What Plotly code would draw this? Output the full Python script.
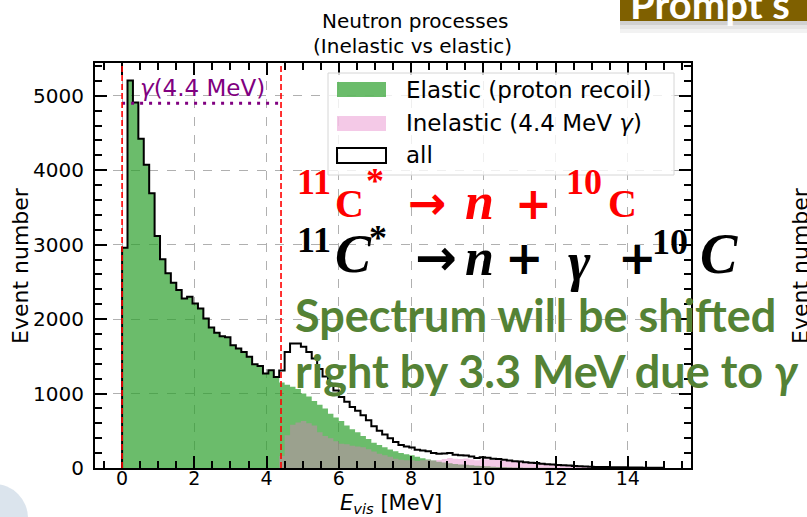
import numpy as np
import plotly.graph_objects as go

# ---- histogram data: 100 bins of 0.15 MeV from 0 to 15 MeV ----
bin_edges = np.linspace(0.0, 15.0, 101)

elastic_counts = [
    2960, 5207, 4911, 4423, 4073, 3692, 3117, 2803, 2615, 2489,
    2390, 2278, 2300, 2210, 2143, 2009, 1888, 1816, 1770, 1755,
    1650, 1605, 1560, 1493, 1394, 1372, 1268, 1313, 1224, 1150,
    1120, 1090, 1060, 1000, 960, 900, 850, 800, 730, 680,
    630, 570, 520, 480, 430, 390, 340, 310, 280, 250,
    225, 200, 185, 170, 150, 130, 115, 100, 85, 75,
    65, 55, 48, 42, 36, 30, 26, 22, 18, 15,
    12, 10, 8, 7, 5, 4, 3, 3, 2, 2,
    1, 1, 1, 0, 0, 0, 0, 0, 0, 0,
    0, 0, 0, 0, 0, 0, 0, 0, 0, 0,
]

inelastic_counts = [0] * 29 + [
    160, 440, 582, 612, 630, 600, 570, 480, 430, 400, 360,
    325, 320, 300, 290, 278, 251, 220, 190, 170, 150,
    125, 110, 105, 105, 95, 105, 110, 100, 107, 120,
    135, 123, 122, 126, 119, 105, 119, 116, 107, 107,
    100, 90, 82, 80, 73, 66, 63, 55, 48, 45,
    39, 37, 32, 26, 22, 20, 17, 15, 13, 12,
    11, 10, 9, 8, 7, 6, 5, 4, 3, 2,
]

all_counts = np.array(elastic_counts) + np.array(inelastic_counts)

gamma_line_energy = 4.4          # MeV
gamma_label_level = 4900         # height of the dotted marker
x_ticks = [0, 2, 4, 6, 8, 10, 12, 14]
y_ticks = [0, 1000, 2000, 3000, 4000, 5000]

# ---- canvas geometry (pixels) ----
W, H = 807, 517
L, R, T, B = 95, 691, 63, 468


def fx(px):
    return (px - L) / (R - L)


def fy(py):
    return (B - py) / (B - T)


def step_xy(counts):
    xs = np.concatenate([[bin_edges[0]], bin_edges])
    ys = np.concatenate([[0], np.asarray(counts, dtype=float), [0]])
    return xs, ys


fig = go.Figure()

xs, ys = step_xy(elastic_counts)
fig.add_trace(go.Scatter(x=xs, y=ys, mode="lines", fill="tozeroy",
                         fillcolor="rgba(44,160,44,0.7)",
                         line=dict(shape="hv", width=0, color="rgba(0,0,0,0)"),
                         hoverinfo="skip", showlegend=False))
xs, ys = step_xy(inelastic_counts)
fig.add_trace(go.Scatter(x=xs, y=ys, mode="lines", fill="tozeroy",
                         fillcolor="rgba(227,119,194,0.4)",
                         line=dict(shape="hv", width=0, color="rgba(0,0,0,0)"),
                         hoverinfo="skip", showlegend=False))
xs, ys = step_xy(all_counts)
fig.add_trace(go.Scatter(x=xs, y=ys, mode="lines",
                         line=dict(shape="hv", width=2, color="black"),
                         hoverinfo="skip", showlegend=False))

# dotted purple marker for the 4.4 MeV gamma
fig.add_trace(go.Scatter(x=[0, gamma_line_energy], y=[gamma_label_level] * 2,
                         mode="lines",
                         line=dict(color="#800080", width=3, dash="3px,6px"),
                         hoverinfo="skip", showlegend=False))

AX = "DejaVu Sans"
axis_common = dict(
    showline=True, linewidth=2, linecolor="black", mirror="ticks",
    ticks="inside", ticklen=12, tickwidth=2, tickcolor="black",
    showgrid=True, gridcolor="#b0b0b0", griddash="dash", gridwidth=1,
    zeroline=False,
)
fig.update_xaxes(range=[-0.75, 15.75], tickvals=x_ticks, **axis_common,
                 tickfont=dict(family=AX, size=19, color="black"),
                 minor=dict(dtick=0.5, tick0=0, ticks="inside", ticklen=7,
                            tickwidth=1.5, tickcolor="black", showgrid=False),
                 ticklabelstandoff=-8)
fig.update_yaxes(range=[0, 5441], tickvals=y_ticks, **axis_common,
                 tickfont=dict(family=AX, size=20, color="black"),
                 minor=dict(dtick=200, tick0=0, ticks="inside", ticklen=7,
                            tickwidth=1.5, tickcolor="black", showgrid=False),
                 ticklabelstandoff=5)

shapes = []
# red dashed reference lines
for xv in (0, gamma_line_energy):
    shapes.append(dict(type="line", xref="x", yref="paper", x0=xv, x1=xv,
                       y0=0, y1=1, line=dict(color="red", width=1.6, dash="6px,3px")))

# legend frame and patches
shapes.append(dict(type="rect", xref="paper", yref="paper",
                   x0=fx(328), x1=fx(674), y0=fy(175), y1=fy(73),
                   line=dict(color="#d6d6d6", width=1), fillcolor="rgba(255,255,255,0.8)"))
shapes.append(dict(type="rect", xref="paper", yref="paper",
                   x0=fx(337), x1=fx(386), y0=fy(97), y1=fy(82),
                   line=dict(width=0), fillcolor="rgba(44,160,44,0.7)"))
shapes.append(dict(type="rect", xref="paper", yref="paper",
                   x0=fx(337), x1=fx(386), y0=fy(131), y1=fy(116),
                   line=dict(width=0), fillcolor="rgba(227,119,194,0.4)"))
shapes.append(dict(type="rect", xref="paper", yref="paper",
                   x0=fx(337), x1=fx(386), y0=fy(163), y1=fy(148),
                   line=dict(color="black", width=2), fillcolor="rgba(0,0,0,0)"))

# slide header bar at the top right, with its soft shadow
shapes.append(dict(type="rect", xref="paper", yref="paper",
                   x0=fx(620), x1=fx(812), y0=fy(21), y1=fy(-5),
                   line=dict(width=0), fillcolor="#7f6000", layer="above"))
for i, a in enumerate([0.18, 0.10, 0.05]):
    shapes.append(dict(type="rect", xref="paper", yref="paper",
                       x0=fx(620), x1=fx(812), y0=fy(21 + 4 * (i + 1)), y1=fy(21 + 4 * i),
                       line=dict(width=0), fillcolor=f"rgba(0,0,0,{a})", layer="above"))

# slide background corner
shapes.append(dict(type="circle", xref="paper", yref="paper",
                   x0=fx(-40), x1=fx(28), y0=fy(552), y1=fy(484),
                   line=dict(width=0), fillcolor="rgba(190,205,222,0.55)", layer="below"))

ann = []


def text(px, py, s, size, color="black", family=AX, xanchor="left", yanchor="middle",
         angle=0):
    ann.append(dict(x=fx(px), y=fy(py), xref="paper", yref="paper", text=s,
                    showarrow=False, xanchor=xanchor, yanchor=yanchor, textangle=angle,
                    font=dict(family=family, size=size, color=color)))


# title and axis labels
text(415, 21, "Neutron processes", 20, xanchor="center")
text(413, 46, "(Inelastic vs elastic)", 20, xanchor="center")
text(391, 504, "<i>E</i><sub><i>vis</i></sub> [MeV]", 21, xanchor="center")
text(20, 265, "Event number", 22, xanchor="center", angle=-90)

# legend entries
text(404, 90, "Elastic (proton recoil)", 23)
text(404, 123, "Inelastic (4.4 MeV <i>γ</i>)", 23)
text(404, 155, "all", 23)

# gamma label
text(138, 88, "<i>γ</i>(4.4 MeV)", 23, color="#800080")

# reaction formulas
SER = "Liberation Serif"
red = "#ff0000"
text(295, 182, "<b>11</b>", 36, red, SER)
text(333, 204, "<b>C</b>", 40, red, SER)
text(364, 181, "<b>*</b>", 36, red, SER)
text(406, 203, "<b>→</b>", 46, red, AX)
text(463, 201, "<b><i>n</i></b>", 52, red, SER)
text(513, 203, "<b>+</b>", 44, red, AX)
text(564, 182, "<b>10</b>", 36, red, SER)
text(606, 204, "<b>C</b>", 40, red, SER)

text(295, 240, "<b>11</b>", 36, "black", SER)
text(333, 254, "<b><i>C</i></b>", 54, "black", SER)
text(367, 238, "<b>*</b>", 36, "black", SER)
text(413, 258, "<b>→</b>", 50, "black", AX)
text(463, 257, "<b><i>n</i></b>", 52, "black", SER)
text(503, 258, "<b>+</b>", 46, "black", AX)
text(566, 262, "<b><i>γ</i></b>", 54, "black", SER)
text(616, 258, "<b>+</b>", 46, "black", AX)
text(650, 242, "<b>10</b>", 36, "black", SER)
text(698, 254, "<b><i>C</i></b>", 56, "black", SER)

# explanatory note
GRN = "#548235"
text(293, 315, "<b>Spectrum will be shifted</b>", 45, GRN, "Lato")
text(293, 371, "<b>right by 3.3 MeV due to <i>γ</i></b>", 45, GRN, "Lato")

# neighbouring slide content
text(800, 266, "Event number", 22, xanchor="center", angle=-90)
text(628, 4, "<b>Prompt s</b>", 40, "white", "Lato", yanchor="middle")

fig.update_layout(
    width=W, height=H, autosize=False,
    margin=dict(l=L, r=W - R, t=T, b=H - B, pad=0),
    paper_bgcolor="white", plot_bgcolor="white",
    shapes=shapes, annotations=ann, showlegend=False,
)

fig.write_html("out.html")
